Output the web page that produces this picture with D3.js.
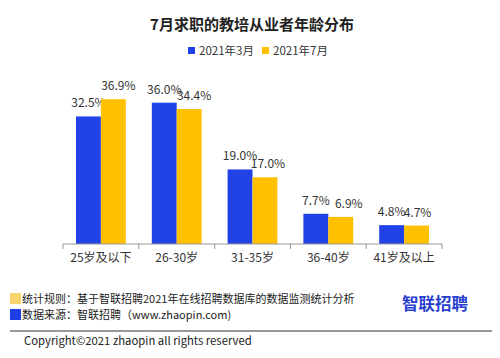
<!DOCTYPE html>
<html><head><meta charset="utf-8">
<script src="https://cdn.jsdelivr.net/npm/d3@7"></script>
<style>
body{margin:0;background:#fff;}
text{font-family:"Noto Sans CJK SC","Noto Sans",sans-serif;}
</style></head>
<body><svg id="c" width="500" height="358"></svg>
<script>
const categories = ["25岁及以下","26-30岁","31-35岁","36-40岁","41岁及以上"];
const seriesNames = ["2021年3月","2021年7月"];
const march = [32.5, 36.0, 19.0, 7.7, 4.8];
const july = [36.9, 34.4, 17.0, 6.9, 4.7];
const colors = ["#2142E6", "#FFC000"];
const title = "7月求职的教培从业者年龄分布";
const footnotes = ["统计规则：基于智联招聘2021年在线招聘数据库的数据监测统计分析","数据来源：智联招聘（www.zhaopin.com)"];
const copyright = "Copyright©2021 zhaopin all rights reserved";

const svg = d3.select("#c");
const x = d3.scaleBand().domain(categories).range([63, 442]).paddingInner(0).paddingOuter(0);
const xs = d3.scaleBand().domain([0,1]).range([13, x.bandwidth()-13]).padding(0);
const y = d3.scaleLinear().domain([0, 40]).range([244, 87]);

svg.append("text").attr("x", 252).attr("y", 30).attr("text-anchor","middle")
  .attr("font-size", 15).attr("font-weight","bold").attr("fill","#222").text(title);

// legend
const lg = svg.append("g");
const lx = [188, 262];
seriesNames.forEach((n,i)=>{
  lg.append("rect").attr("x", lx[i]).attr("y", 47).attr("width", 7).attr("height", 7).attr("fill", colors[i]);
  lg.append("text").attr("x", lx[i]+11).attr("y", 54.5).attr("font-size", 11.5).attr("fill","#333").text(n);
});

const data = categories.map((c,i)=>({c, v:[march[i], july[i]]}));
const g = svg.append("g");
const ydx = [5, 5, 3, 8, 1];
data.forEach((d,ci)=>{
  d.v.forEach((v,s)=>{
    const bx = x(d.c) + xs(s);
    g.append("rect").attr("x", bx).attr("y", y(v)).attr("width", xs.bandwidth()).attr("height", y(0)-y(v)).attr("fill", colors[s]);
    g.append("text").attr("x", bx + xs.bandwidth()/2 + (s===1?ydx[ci]:0)).attr("y", y(v)-9)
      .attr("text-anchor","middle").attr("font-size", 12).attr("fill","#333").text(v.toFixed(1)+"%");
  });
});

// axis
const ax = svg.append("g").attr("transform","translate(0,244)");
ax.call(d3.axisBottom(x).tickSize(0).tickPadding(9));
ax.select(".domain").attr("stroke","#999").attr("d","M63,0H442");
ax.selectAll(".tick text").attr("font-size", 12).attr("fill","#333").attr("font-family","Noto Sans CJK SC");
const bounds = categories.map(c=>x(c)).concat([x.range()[1]]);
ax.selectAll(".bt").data(bounds).enter().append("line").attr("x1",d=>d).attr("x2",d=>d).attr("y1",0).attr("y2",5).attr("stroke","#999");

// footer
svg.append("rect").attr("x",10).attr("y",293).attr("width",11).attr("height",11).attr("fill","#F9D36B");
svg.append("rect").attr("x",10).attr("y",309).attr("width",11).attr("height",11).attr("fill","#1F3FE6");
footnotes.forEach((t,i)=>{
  svg.append("text").attr("x",22).attr("y",303+i*16).attr("font-size",11).attr("fill","#222").text(t);
});
svg.append("line").attr("x1",10).attr("x2",492).attr("y1",331).attr("y2",331).attr("stroke","#333").attr("stroke-width",1);
svg.append("text").attr("x",24).attr("y",345).attr("font-size",11.3).attr("fill","#222").text(copyright);
svg.append("text").attr("x",435).attr("y",310).attr("text-anchor","middle").attr("font-size",16.5).attr("font-weight","bold").attr("fill","#2A3FCF").text("智联招聘");
</script></body></html>
